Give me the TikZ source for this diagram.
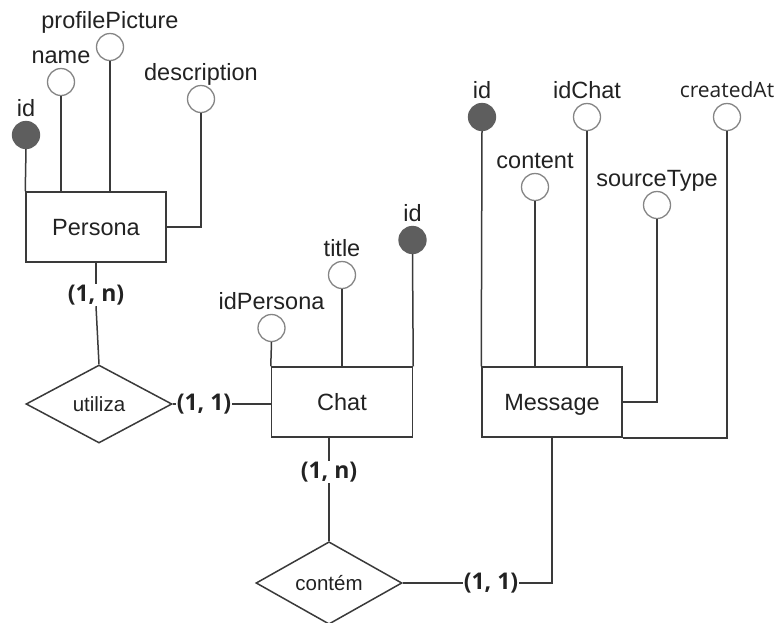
\documentclass[tikz,border=0pt]{standalone}
\usepackage{fontspec}
\setmainfont{Liberation Sans}
\newfontfamily\osans{Open Sans}
\usetikzlibrary{shapes.geometric}
\definecolor{ln}{HTML}{3A3A3A}
\definecolor{circ}{HTML}{858585}
\definecolor{keyc}{HTML}{5E5E5E}
\definecolor{txt}{HTML}{222222}
\begin{document}
\begin{tikzpicture}[x=1pt,y=-1pt,
 conn/.style={draw=ln, line width=1.5pt},
 ent/.style={draw=ln, line width=1.5pt, fill=white, rectangle, inner sep=0pt, minimum height=70pt, text=txt, font=\fontsize{23.5}{26}\selectfont, text height=17pt, text depth=0pt},
 attr/.style={circle, draw=circ, line width=1.3pt, fill=white, minimum size=27pt, inner sep=0pt},
 keyattr/.style={attr, draw=keyc, fill=keyc},
 albl/.style={anchor=base, inner sep=0pt, text=txt, font=\fontsize{23.5}{26}\selectfont},
 rel/.style={diamond, draw=ln, line width=1.5pt, fill=white, inner sep=0pt, minimum width=146pt, minimum height=78pt, text=txt, font=\fontsize{20.5}{24}\selectfont},
 card/.style={inner sep=1pt, text=txt, font=\osans\bfseries\fontsize{23}{27}\selectfont}
]
\useasboundingbox (0,0) rectangle (777,622);

% Persona
\node[ent, minimum width=140pt] (persona) at (96,227) {Persona};
\node[keyattr] (pid) at (26,135) {};
\node[albl] (pidL) at ([yshift=18.5pt]pid.center) {id};
\node[attr] (pname) at (61,82) {};
\node[albl] (pnameL) at ([yshift=18.5pt]pname.center) {name};
\node[attr] (ppic) at (110,47) {};
\node[albl] (ppicL) at ([yshift=18.5pt]ppic.center) {profilePicture};
\node[attr] (pdesc) at (201,99) {};
\node[albl] (pdescL) at ([yshift=18.5pt]pdesc.center) {description};
\draw[conn] (pid.south) -- (persona.north west);
\draw[conn] (pname.south) -- (pname.south |- persona.north);
\draw[conn] (ppic.south) -- (ppic.south |- persona.north);
\draw[conn] (pdesc.south) |- (persona.east);

% Chat
\node[ent, minimum width=141pt] (chat) at (342,402) {Chat};
\node[attr] (cidp) at (271.5,328) {};
\node[albl] (cidpL) at ([yshift=18.5pt]cidp.center) {idPersona};
\node[attr] (ctitle) at (342,275) {};
\node[albl] (ctitleL) at ([yshift=18.5pt]ctitle.center) {title};
\node[keyattr] (cid) at (412.5,240) {};
\node[albl] (cidL) at ([yshift=18.5pt]cid.center) {id};
\draw[conn] (cidp.south) -- (chat.north west);
\draw[conn] (ctitle.south) -- (chat.north);
\draw[conn] (cid.south) -- (chat.north east);

% Message
\node[ent, minimum width=140pt] (msg) at (552,402) {Message};
\node[keyattr] (mid) at (482,117) {};
\node[albl] (midL) at ([yshift=18.5pt]mid.center) {id};
\node[attr] (mcont) at (535,187) {};
\node[albl] (mcontL) at ([yshift=18.5pt]mcont.center) {content};
\node[attr] (mchat) at (587,117) {};
\node[albl] (mchatL) at ([yshift=18.5pt]mchat.center) {idChat};
\node[attr] (msrc) at (657,205) {};
\node[albl] (msrcL) at ([yshift=18.5pt]msrc.center) {sourceType};
\node[attr] (mcre) at (727,117) {};
\node[albl, font=\osans\fontsize{21}{24}\selectfont] (mcreL) at ([yshift=20pt]mcre.center) {createdAt};
\draw[conn] (mid.south) -- (msg.north west);
\draw[conn] (mcont.south) -- (mcont.south |- msg.north);
\draw[conn] (mchat.south) -- (mchat.south |- msg.north);
\draw[conn] (msrc.south) |- (msg.east);
\draw[conn] (mcre.south) |- (msg.south east);

% utiliza
\node[rel] (uti) at (99,404) {utiliza};
\node[card] (c1) at (96,295) {(1, n)};
\draw[conn] (persona.south) -- (c1.north);
\draw[conn] (c1.south) -- (uti.north);
\node[card] (c2) at (204,404) {(1, 1)};
\draw[conn] (uti.east) -- (c2.west);
\draw[conn] (c2.east) -- (c2.east -| chat.west);

% contem
\node[rel] (con) at (329,583) {contém};
\node[card] (c3) at (329,472) {(1, n)};
\draw[conn] (c3 |- chat.south) -- (c3.north);
\draw[conn] (c3.south) -- (con.north);
\node[card] (c4) at (491,583) {(1, 1)};
\draw[conn] (con.east) -- (c4.west);
\draw[conn] (c4.east) -| (msg.south);
\end{tikzpicture}
\end{document}
